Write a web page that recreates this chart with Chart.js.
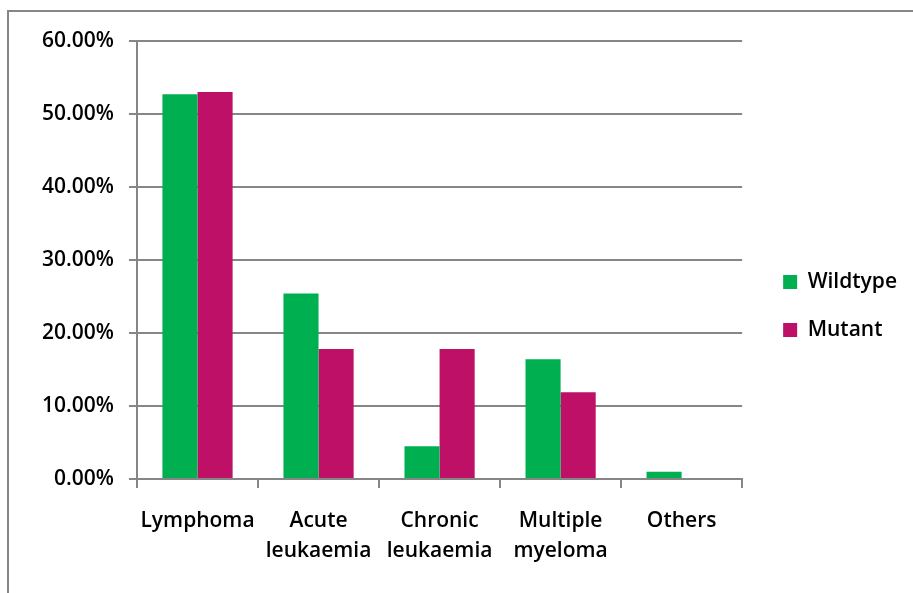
<!DOCTYPE html>
<html lang="en">
<head>
  <meta charset="UTF-8">
  <title>Wildtype vs Mutant</title>
  <script src="https://cdn.jsdelivr.net/npm/chart.js"></script>
  <style>
    body { margin: 0; background: #fff; }
    .frame {
      position: absolute; left: 7px; top: 10px; width: 1000px; height: 700px;
      border-left: 2px solid #868686; border-top: 2px solid #868686;
    }
    .wrap { position: absolute; left: 0; top: 0; width: 913px; height: 593px; }
  </style>
</head>
<body>
  <div class="frame"></div>
  <div class="wrap"><canvas id="chart" width="913" height="593"></canvas></div>
  <script>
    // categories and series (percent)
    const categories = [['Lymphoma'], ['Acute', 'leukaemia'], ['Chronic', 'leukaemia'], ['Multiple', 'myeloma'], ['Others']];
    const wildtype = [52.7, 25.4, 4.5, 16.4, 1.0];
    const mutant = [53.0, 17.8, 17.8, 11.9, 0];
    const yTicks = [0, 10, 20, 30, 40, 50, 60];

    const gray = '#868686';
    const font = { family: '"Open Sans", sans-serif', size: 21, weight: '600' };

    new Chart(document.getElementById('chart'), {
      type: 'bar',
      data: {
        labels: categories,
        datasets: [
          { label: 'Wildtype', data: wildtype, backgroundColor: '#00B050' },
          { label: 'Mutant', data: mutant, backgroundColor: '#BE1066' }
        ]
      },
      options: {
        responsive: false,
        animation: false,
        layout: { padding: { top: 41, right: 6, bottom: 22, left: 0 } },
        datasets: { bar: { categoryPercentage: 0.58, barPercentage: 1.0 } },
        scales: {
          x: {
            grid: { drawOnChartArea: false, offset: true, tickLength: 9, color: gray, lineWidth: 2 },
            border: { color: gray, width: 2 },
            ticks: { color: '#000', font: { ...font, lineHeight: 1.43 }, padding: 18, maxRotation: 0, autoSkip: false },
            afterFit: s => { s.height = 92; }
          },
          y: {
            min: 0, max: 60,
            afterBuildTicks: s => { s.ticks = yTicks.map(v => ({ value: v })); },
            grid: { color: gray, lineWidth: 2, tickLength: 8 },
            border: { color: gray, width: 2 },
            ticks: { color: '#000', font: font, padding: 15, callback: v => v.toFixed(2) + '%' },
            afterFit: s => { s.width = 137; }
          },
          // empty spacer between plot and legend
          gap: {
            type: 'linear', position: 'right', display: true,
            grid: { display: false }, border: { display: false }, ticks: { display: false },
            afterFit: s => { s.width = 14; }
          }
        },
        plugins: {
          legend: {
            position: 'right',
            labels: { boxWidth: 14, boxHeight: 14, padding: 27, color: '#000', font: font }
          },
          tooltip: { enabled: false }
        }
      }
    });
  </script>
</body>
</html>
